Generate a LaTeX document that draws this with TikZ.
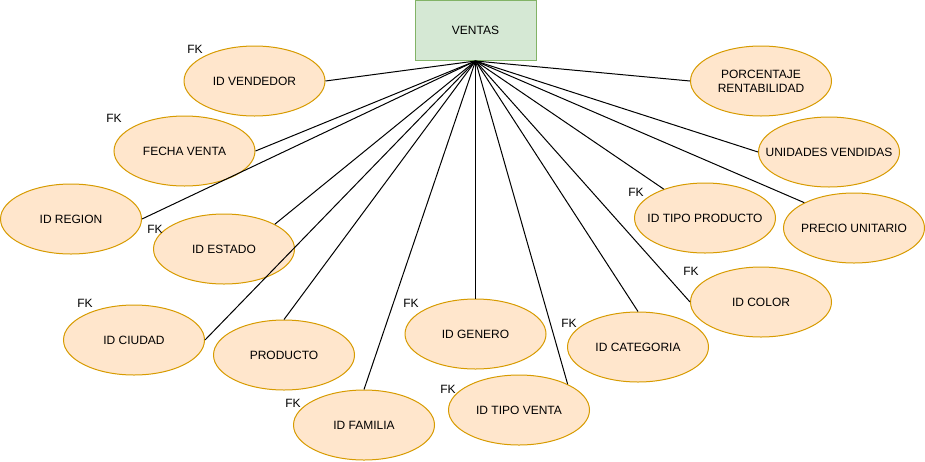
\documentclass[tikz,border=0pt]{standalone}
\usepackage{fontspec}
\setmainfont{Liberation Sans}
\usetikzlibrary{shapes.geometric}
\definecolor{attrfill}{RGB}{255,230,204}
\definecolor{attrline}{RGB}{215,155,0}
\definecolor{tabfill}{RGB}{213,232,212}
\definecolor{tabline}{RGB}{130,179,102}

\begin{document}
\begin{tikzpicture}[x=1pt,y=-1pt,
    font=\fontsize{12}{14}\selectfont,
    attr/.style={ellipse,draw=attrline,fill=attrfill,line width=1pt,minimum width=141pt,minimum height=70pt,inner sep=0pt,
        label={[align=center,inner sep=0pt]center:#1}},
    tabla/.style={rectangle,draw=tabline,fill=tabfill,line width=1pt,minimum width=121pt,minimum height=60pt},
    fk/.style={inner sep=0pt},
    conn/.style={line width=1pt}]
    \useasboundingbox (0,0) rectangle (925,461);

    \node[tabla] (ventas) at (475.5,30.5) {VENTAS};

    \node[attr={ID VENDEDOR}] (vendedor) at (254.5,81) {};
    \node[attr={FECHA VENTA}] (fecha) at (184.5,151) {};
    \node[attr={ID REGION}] (region) at (71,219) {};
    \node[attr={ID ESTADO}] (estado) at (224,249) {};
    \node[attr={ID CIUDAD}] (ciudad) at (134,340) {};
    \node[attr={PRODUCTO}] (producto) at (284,355) {};
    \node[attr={ID FAMILIA}] (familia) at (364,425) {};
    \node[attr={ID GENERO}] (genero) at (475.5,334) {};
    \node[attr={ID TIPO VENTA}] (tipoventa) at (519,410) {};
    \node[attr={ID CATEGORIA}] (categoria) at (638,347) {};
    \node[attr={ID COLOR}] (color) at (761,302) {};
    \node[attr={ID TIPO PRODUCTO}] (tipoprod) at (705,218) {};
    \node[attr={PRECIO UNITARIO}] (precio) at (854,228) {};
    \node[attr={UNIDADES VENDIDAS}] (unidades) at (829,152) {};
    \node[attr={PORCENTAJE\\RENTABILIDAD}] (porcentaje) at (761,81) {};

    \node[fk] (fkvendedor) at (195,49) {FK};
    \node[fk] (fkfecha) at (114,118) {FK};
    \node[fk] (fkestado) at (155,229) {FK};
    \node[fk] (fkciudad) at (85,303) {FK};
    \node[fk] (fkfamilia) at (293,403) {FK};
    \node[fk] (fkgenero) at (411,303) {FK};
    \node[fk] (fktipoventa) at (448,389) {FK};
    \node[fk] (fkcategoria) at (569,323) {FK};
    \node[fk] (fkcolor) at (691,271) {FK};
    \node[fk] (fktipoprod) at (636,192) {FK};

    \draw[conn] (ventas.south) -- (vendedor.east);
    \draw[conn] (ventas.south) -- (fecha.east);
    \draw[conn] (ventas.south) -- (region.east);
    \draw[conn] (ventas.south) -- (estado.26);
    \draw[conn] (ventas.south) -- (ciudad.east);
    \draw[conn] (ventas.south) -- (producto.north);
    \draw[conn] (ventas.south) -- (familia.north);
    \draw[conn] (ventas.south) -- (genero.north);
    \draw[conn] (ventas.south) -- (tipoventa.28);
    \draw[conn] (ventas.south) -- (categoria.north);
    \draw[conn] (ventas.south) -- (color.west);
    \draw[conn] (ventas.south) -- (tipoprod.145);
    \draw[conn] (ventas.south) -- (precio.153);
    \draw[conn] (ventas.south) -- (unidades.west);
    \draw[conn] (ventas.south) -- (porcentaje.west);
\end{tikzpicture}
\end{document}
